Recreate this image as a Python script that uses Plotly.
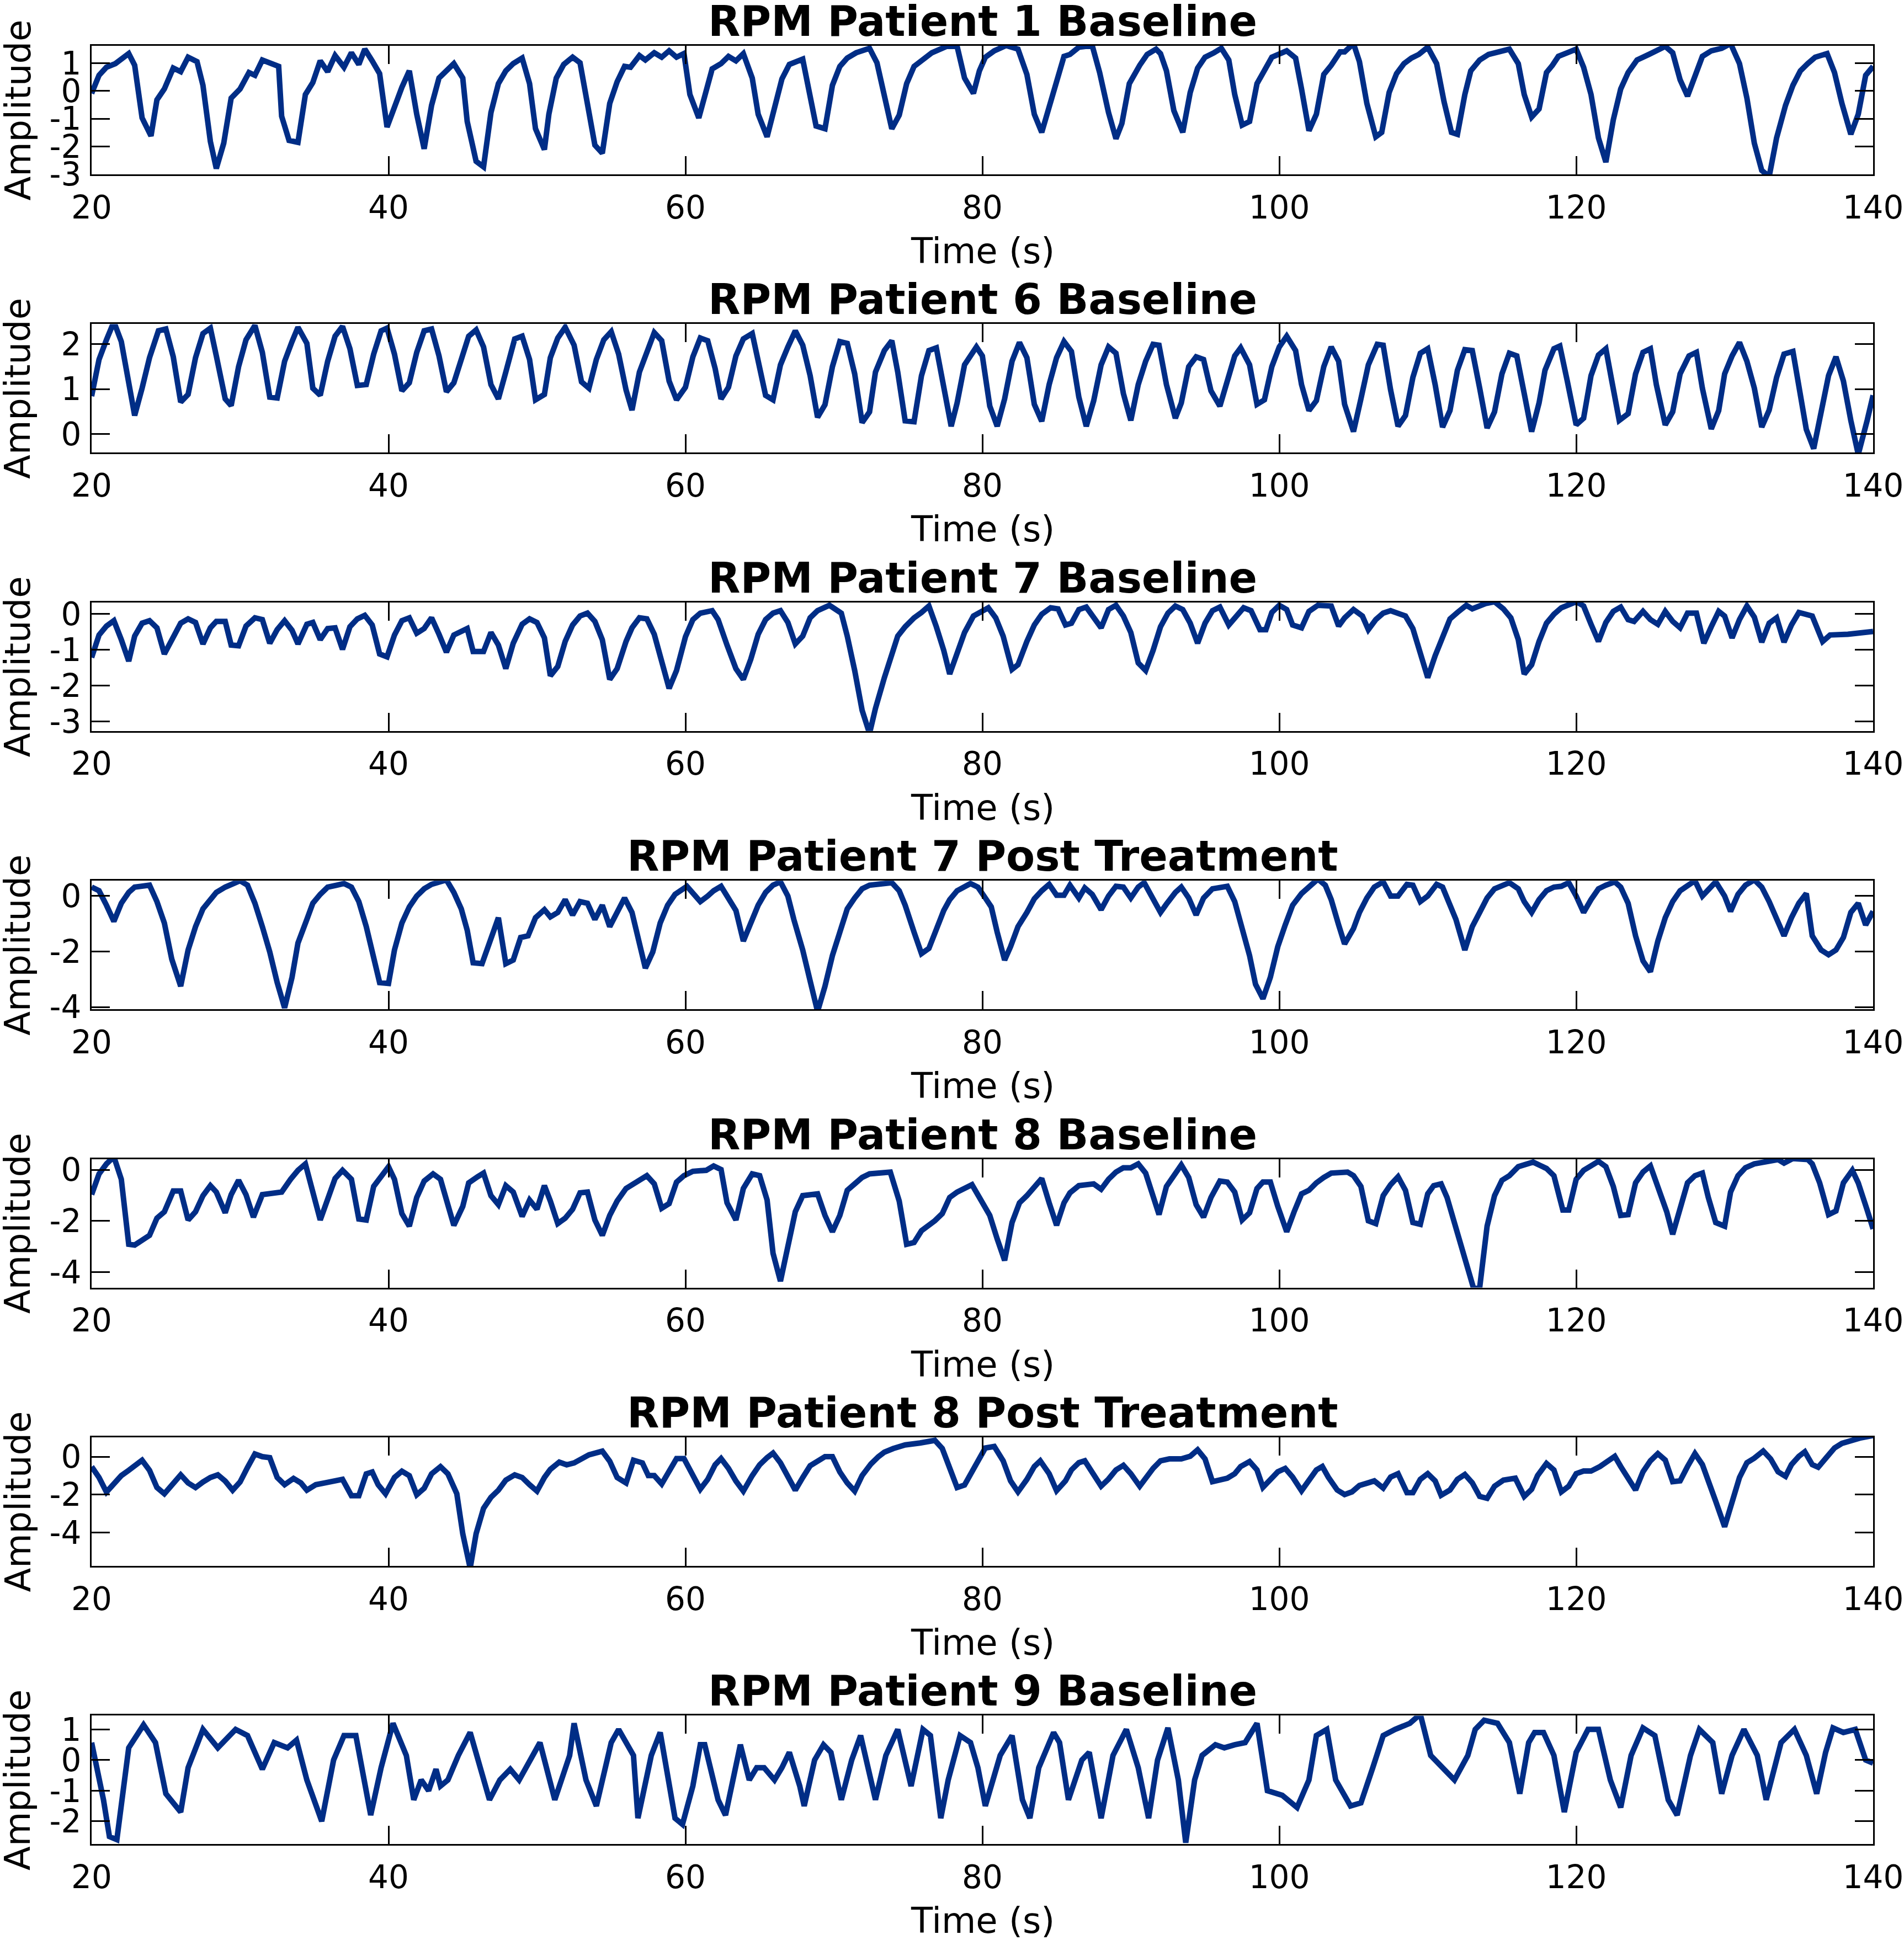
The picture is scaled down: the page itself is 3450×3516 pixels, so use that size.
import plotly.graph_objects as go

W, H = 3450, 3516

titles = ["RPM Patient 1 Baseline", "RPM Patient 6 Baseline", "RPM Patient 7 Baseline",
          "RPM Patient 7 Post Treatment", "RPM Patient 8 Baseline",
          "RPM Patient 8 Post Treatment", "RPM Patient 9 Baseline"]

x_ticks = [20, 40, 60, 80, 100, 120, 140]

# ---- Patient 1 baseline
t1 = [20, 20.5, 21, 21.6, 22.5, 22.9, 23.4, 24.0, 24.4, 24.9, 25.5, 26.0, 26.5, 27.1, 27.5, 28.0, 28.4, 28.9, 29.4, 30.0,
      30.6, 31.0, 31.5, 32.2, 32.6, 32.8, 33.3, 33.9, 34.4, 34.9, 35.4, 35.9, 36.4, 37.0, 37.5, 38.0, 38.4, 38.9, 39.4, 39.9,
      40.4, 40.9, 41.4, 41.9, 42.4, 42.9, 43.4, 43.9, 44.4, 45.0, 45.3, 45.9, 46.4, 46.9, 47.4, 47.9, 48.4, 49.0, 49.5, 49.9,
      50.5, 50.8, 51.3, 51.8, 52.4, 52.9, 53.4, 53.9, 54.4, 54.9, 55.4, 55.9, 56.3, 56.9, 57.3, 57.9, 58.4, 58.9, 59.4, 59.9,
      60.3, 60.9, 61.3, 61.8, 62.4, 62.9, 63.4, 63.9, 64.5, 64.9, 65.5, 66.0, 66.5, 67.0, 67.9, 68.3, 68.8, 69.4, 69.9, 70.4,
      70.9, 71.5, 72.4, 72.9, 73.3, 73.9, 74.4, 74.9, 75.4, 76.0, 76.6, 77.6, 78.3, 78.8, 79.4, 79.8, 80.2, 80.8, 81.6, 82.4,
      83.0, 83.5, 84.0, 84.5, 85.0, 85.5, 85.9, 86.5, 87.4, 87.9, 88.5, 89.0, 89.4, 89.9, 90.6, 91.1, 91.7, 92.0, 92.4, 92.9,
      93.5, 94.0, 94.5, 95.0, 95.6, 96.1, 96.6, 97.0, 97.5, 98.0, 98.5, 99.1, 99.5, 100.5, 101.1, 101.5, 102.0, 102.5, 103.0, 103.5,
      104.1, 104.4, 105.0, 105.4, 105.9, 106.5, 106.9, 107.4, 107.9, 108.4, 108.9, 109.4, 110.0, 110.6, 111.1, 111.6, 112.0, 112.5, 112.9, 113.5,
      114.1, 115.5, 116.1, 116.5, 117.0, 117.5, 118.0, 118.4, 118.8, 119.4, 120.0, 120.5, 121.0, 121.5, 122.0, 122.5, 123.0, 123.5, 124.1, 124.9,
      126.0, 126.5, 127.0, 127.5, 128.0, 128.5, 129.1, 129.8, 130.4, 131.0, 131.5, 132.0, 132.5, 133.0, 133.5, 134.1, 134.6, 135.1, 135.6, 136.1,
      136.9, 137.4, 137.9, 138.5, 139.0, 139.5, 140.0]
y1 = [-0.09, 0.56, 0.85, 0.98, 1.34, 0.92, -0.97, -1.62, -0.32, 0.07, 0.82, 0.69, 1.21, 1.05, 0.20, -1.82, -2.79, -1.88, -0.26, 0.07,
      0.66, 0.56, 1.11, 0.98, 0.88, -0.91, -1.78, -1.85, -0.13, 0.30, 1.08, 0.69, 1.27, 0.85, 1.37, 0.95, 1.50, 1.08, 0.62, -1.30,
      -0.52, 0.13, 0.72, -0.84, -2.08, -0.52, 0.46, 0.69, 0.98, 0.46, -1.10, -2.53, -2.73, -0.78, 0.26, 0.72, 0.98, 1.18, 0.26, -1.36,
      -2.11, -0.84, 0.46, 0.95, 1.21, 1.01, -0.58, -1.95, -2.24, -0.45, 0.33, 0.88, 0.85, 1.27, 1.11, 1.37, 1.21, 1.44, 1.21, 1.34,
      -0.13, -0.97, -0.19, 0.79, 0.98, 1.24, 1.08, 1.34, 0.46, -0.84, -1.65, -0.58, 0.43, 0.95, 1.14, 0.07, -1.26, -1.36, 0.20, 0.88,
      1.18, 1.37, 1.53, 1.01, 0.13, -1.36, -0.87, 0.26, 0.88, 1.11, 1.37, 1.60, 1.60, 0.46, -0.09, 0.72, 1.21, 1.44, 1.63, 1.50,
      0.59, -0.84, -1.49, -0.58, 0.33, 1.24, 1.31, 1.57, 1.63, 0.66, -0.78, -1.72, -1.17, 0.26, 0.92, 1.31, 1.50, 1.34, 0.72, -0.71,
      -1.49, -0.06, 0.82, 1.21, 1.37, 1.53, 1.11, -0.13, -1.23, -1.10, 0.26, 0.82, 1.21, 1.44, 1.18, 0.07, -1.43, -0.84, 0.59, 0.92,
      1.40, 1.40, 1.70, 1.05, -0.45, -1.65, -1.49, -0.06, 0.62, 0.98, 1.18, 1.31, 1.57, 0.98, -0.39, -1.49, -1.56, -0.13, 0.72, 1.11,
      1.31, 1.50, 0.98, -0.13, -0.94, -0.65, 0.66, 0.92, 1.24, 1.37, 1.50, 0.85, -0.13, -1.69, -2.56, -1.04, 0.07, 0.66, 1.11, 1.31,
      1.60, 1.37, 0.40, -0.19, 0.46, 1.24, 1.44, 1.53, 1.70, 0.98, -0.26, -1.88, -2.86, -3.08, -1.69, -0.52, 0.20, 0.72, 0.98, 1.21,
      1.34, 0.66, -0.45, -1.56, -0.84, 0.56, 0.88]

# ---- Patient 6 baseline
t2 = [20, 20.5, 21.0, 21.5, 22.0, 22.5, 22.9, 23.4, 23.9, 24.5, 25.0, 25.5, 26.0, 26.5, 27.0, 27.5, 28.0, 28.4, 29.0, 29.4,
      29.9, 30.4, 31.0, 31.5, 32.0, 32.5, 33.0, 33.5, 33.9, 34.5, 34.9, 35.4, 35.9, 36.4, 36.9, 37.4, 37.9, 38.5, 39.0, 39.5,
      39.9, 40.4, 40.9, 41.4, 41.9, 42.4, 42.9, 43.4, 43.9, 44.4, 45.0, 45.4, 45.9, 46.4, 46.9, 47.4, 47.9, 48.5, 49.0, 49.5,
      49.9, 50.5, 50.9, 51.4, 51.9, 52.5, 53.0, 53.5, 54.0, 54.5, 55.0, 55.5, 56.0, 56.4, 56.9, 57.4, 57.9, 58.4, 58.9, 59.4,
      60.0, 60.5, 61.0, 61.5, 62.0, 62.4, 62.9, 63.4, 63.9, 64.5, 64.9, 65.4, 65.9, 66.4, 66.9, 67.4, 67.9, 68.4, 68.9, 69.4,
      69.9, 70.4, 70.9, 71.4, 71.9, 72.4, 72.8, 73.4, 73.9, 74.3, 74.8, 75.4, 75.9, 76.4, 76.9, 77.4, 77.9, 78.3, 78.8, 79.6,
      80.0, 80.5, 81.0, 81.5, 82.0, 82.5, 83.0, 83.5, 84.0, 84.5, 85.0, 85.5, 86.0, 86.5, 87.0, 87.5, 88.0, 88.5, 89.0, 89.5,
      90.0, 90.5, 91.0, 91.5, 91.9, 92.4, 93.0, 93.4, 93.9, 94.4, 94.9, 95.4, 96.0, 96.5, 97.0, 97.4, 98.0, 98.5, 99.0, 99.5,
      100.0, 100.5, 101.1, 101.5, 102.0, 102.5, 103.0, 103.5, 104.0, 104.4, 105.0, 105.5, 106.0, 106.6, 107.0, 107.5, 108.0, 108.5, 109.0, 109.5,
      110.0, 110.5, 111.0, 111.5, 112.0, 112.5, 113.0, 113.5, 114.0, 114.5, 115.0, 115.5, 116.0, 116.5, 117.0, 117.5, 117.9, 118.5, 118.9, 119.4,
      120.0, 120.5, 121.0, 121.5, 122.0, 122.4, 122.9, 123.5, 124.0, 124.5, 125.0, 125.4, 126.0, 126.5, 127.0, 127.6, 128.1, 128.5, 129.1, 129.6,
      130.0, 130.5, 131.0, 131.5, 132.0, 132.5, 133.0, 133.5, 134.0, 134.6, 135.0, 135.5, 136.0, 136.5, 137.0, 137.5, 138.0, 138.5, 139.0, 139.6, 140.0]
y2 = [0.84, 1.66, 2.10, 2.50, 2.06, 1.10, 0.41, 1.02, 1.70, 2.30, 2.34, 1.72, 0.71, 0.88, 1.70, 2.24, 2.36, 1.74, 0.78, 0.63,
      1.50, 2.10, 2.42, 1.82, 0.82, 0.80, 1.62, 2.06, 2.38, 2.02, 1.02, 0.86, 1.62, 2.18, 2.40, 1.90, 1.08, 1.10, 1.78, 2.30,
      2.36, 1.78, 0.96, 1.14, 1.82, 2.30, 2.34, 1.74, 0.94, 1.14, 1.82, 2.18, 2.32, 1.94, 1.10, 0.78, 1.38, 2.12, 2.18, 1.66,
      0.76, 0.88, 1.70, 2.14, 2.38, 1.98, 1.16, 1.02, 1.66, 2.10, 2.28, 1.78, 0.98, 0.53, 1.38, 1.82, 2.26, 2.08, 1.18, 0.76,
      1.04, 1.72, 2.14, 2.08, 1.46, 0.78, 1.04, 1.74, 2.12, 2.24, 1.58, 0.86, 0.76, 1.54, 1.94, 2.30, 1.98, 1.30, 0.37, 0.65,
      1.50, 2.06, 2.02, 1.34, 0.25, 0.49, 1.38, 1.86, 2.08, 1.38, 0.29, 0.27, 1.30, 1.86, 1.92, 1.02, 0.17, 0.69, 1.54, 1.94,
      1.74, 0.62, 0.17, 0.78, 1.62, 2.04, 1.70, 0.66, 0.28, 1.10, 1.70, 2.06, 1.84, 0.82, 0.17, 0.74, 1.54, 1.94, 1.80, 0.90,
      0.30, 1.10, 1.62, 2.00, 1.98, 1.10, 0.35, 0.69, 1.50, 1.72, 1.66, 0.96, 0.62, 1.18, 1.74, 1.92, 1.54, 0.66, 0.76, 1.50,
      1.94, 2.18, 1.86, 1.10, 0.52, 0.74, 1.50, 1.94, 1.62, 0.66, 0.05, 0.78, 1.54, 2.00, 1.98, 0.98, 0.17, 0.41, 1.26, 1.80,
      1.90, 1.10, 0.15, 0.52, 1.42, 1.88, 1.86, 1.02, 0.13, 0.49, 1.34, 1.80, 1.74, 0.90, 0.05, 0.69, 1.42, 1.90, 1.96, 1.18,
      0.20, 0.35, 1.30, 1.76, 1.90, 1.18, 0.30, 0.45, 1.34, 1.82, 1.90, 1.10, 0.20, 0.49, 1.34, 1.74, 1.82, 1.02, 0.11, 0.52,
      1.34, 1.74, 2.04, 1.62, 1.02, 0.15, 0.53, 1.26, 1.78, 1.84, 1.10, 0.10, -0.33, 0.53, 1.30, 1.72, 1.18, 0.30, -0.46, 0.30, 0.86]

# ---- Patient 7 baseline
t3 = [20, 20.5, 21.0, 21.5, 22.0, 22.5, 22.9, 23.4, 23.9, 24.4, 24.9, 25.4, 26.0, 26.5, 27.0, 27.5, 28.0, 28.4, 29.0, 29.4,
      29.9, 30.4, 31.0, 31.5, 32.0, 32.5, 33.0, 33.5, 33.9, 34.5, 34.9, 35.4, 35.9, 36.4, 36.9, 37.4, 37.9, 38.4, 38.9, 39.4,
      39.9, 40.4, 40.9, 41.4, 41.9, 42.4, 42.9, 43.4, 43.9, 44.4, 45.3, 45.7, 46.4, 46.9, 47.4, 47.9, 48.4, 49.0, 49.5, 50.0,
      50.5, 50.9, 51.4, 51.9, 52.4, 52.9, 53.4, 53.9, 54.4, 54.9, 55.4, 56.0, 56.4, 56.9, 57.4, 57.9, 58.4, 58.9, 59.4, 60.0,
      60.5, 61.0, 61.8, 62.2, 62.8, 63.4, 63.9, 64.4, 64.9, 65.4, 65.9, 66.4, 66.9, 67.4, 67.9, 68.4, 68.9, 69.7, 70.5, 70.9,
      71.4, 71.9, 72.4, 72.8, 73.4, 73.9, 74.3, 74.8, 75.4, 75.9, 76.4, 76.9, 77.4, 77.8, 78.3, 78.8, 79.4, 80.0, 80.4, 80.9,
      81.4, 82.0, 82.4, 83.0, 83.5, 84.0, 84.6, 85.1, 85.6, 86.0, 86.5, 87.0, 87.5, 88.0, 88.5, 89.0, 89.5, 90.0, 90.5, 91.0,
      91.5, 92.0, 92.5, 93.0, 93.5, 94.0, 94.5, 95.0, 95.5, 96.0, 96.6, 97.0, 97.6, 98.1, 98.7, 99.1, 99.5, 100.0, 100.5, 100.9,
      101.5, 102.0, 102.6, 103.5, 104.0, 104.4, 105.0, 105.6, 106.0, 106.5, 107.0, 107.5, 108.5, 109.0, 109.5, 110.0, 110.5, 111.0, 111.5, 112.0,
      112.6, 113.0, 113.5, 113.9, 114.5, 115.1, 115.6, 116.1, 116.5, 117.0, 117.5, 118.0, 118.5, 119.0, 120.0, 120.5, 121.0, 121.5, 122.0, 122.5,
      123.0, 123.5, 123.9, 124.5, 125.0, 125.5, 126.0, 126.5, 127.0, 127.5, 128.1, 128.6, 129.1, 129.6, 130.0, 130.5, 131.0, 131.5, 132.0, 132.5,
      133.0, 133.5, 134.0, 134.5, 135.0, 135.9, 136.6, 137.1, 138.3, 139.1, 140.0]
y3 = [-1.22, -0.59, -0.34, -0.19, -0.72, -1.32, -0.62, -0.26, -0.19, -0.39, -1.12, -0.69, -0.26, -0.14, -0.24, -0.84, -0.39, -0.21, -0.21, -0.87,
      -0.89, -0.34, -0.11, -0.16, -0.82, -0.44, -0.19, -0.46, -0.84, -0.29, -0.24, -0.72, -0.41, -0.39, -0.99, -0.36, -0.14, -0.04, -0.31, -1.12,
      -1.20, -0.59, -0.19, -0.11, -0.54, -0.41, -0.11, -0.57, -1.07, -0.59, -0.41, -1.05, -1.05, -0.52, -0.87, -1.53, -0.82, -0.29, -0.14, -0.24,
      -0.67, -1.73, -1.47, -0.77, -0.31, -0.06, 0.02, -0.21, -0.72, -1.83, -1.53, -0.77, -0.39, -0.11, -0.14, -0.57, -1.37, -2.08, -1.58, -0.64,
      -0.16, 0.02, 0.09, -0.16, -0.87, -1.53, -1.83, -1.27, -0.57, -0.16, 0.02, 0.09, -0.24, -0.84, -0.62, -0.11, 0.09, 0.24, 0.02, -0.62,
      -1.58, -2.69, -3.34, -2.64, -1.78, -1.12, -0.62, -0.36, -0.11, 0.04, 0.22, -0.36, -1.02, -1.68, -1.12, -0.52, -0.06, 0.09, 0.17, -0.11,
      -0.62, -1.55, -1.42, -0.77, -0.31, -0.01, 0.17, 0.14, -0.31, -0.26, 0.12, 0.19, -0.11, -0.39, 0.12, 0.24, -0.06, -0.52, -1.37, -1.58,
      -1.02, -0.36, 0.02, 0.22, 0.12, -0.26, -0.82, -0.26, 0.09, 0.19, -0.31, -0.14, 0.17, 0.09, -0.44, -0.44, 0.04, 0.24, 0.12, -0.31,
      -0.39, 0.07, 0.24, 0.22, -0.34, -0.11, 0.12, -0.06, -0.44, -0.16, 0.02, 0.09, -0.06, -0.41, -1.12, -1.78, -1.17, -0.62, -0.14, 0.04,
      0.24, 0.14, 0.24, 0.29, 0.34, 0.14, -0.11, -0.72, -1.68, -1.42, -0.77, -0.26, -0.01, 0.17, 0.34, 0.22, -0.29, -0.77, -0.24, 0.07,
      0.19, -0.16, -0.21, 0.07, -0.16, -0.29, 0.07, -0.21, -0.39, 0.02, 0.02, -0.82, -0.36, 0.07, -0.06, -0.67, -0.16, 0.22, -0.09, -0.79,
      -0.26, -0.11, -0.79, -0.31, 0.04, -0.06, -0.77, -0.59, -0.57, -0.54, -0.49]

# ---- Patient 7 post treatment
t4 = [20, 20.5, 21.0, 21.5, 22.0, 22.5, 22.9, 23.9, 24.4, 24.9, 25.4, 26.0, 26.5, 27.0, 27.5, 28.0, 28.4, 29.0, 29.5, 30.0,
      30.5, 31.0, 31.5, 32.0, 32.5, 33.0, 33.5, 33.9, 34.5, 34.9, 35.4, 35.9, 36.5, 37.0, 37.5, 38.0, 38.5, 39.0, 39.4, 40.0,
      40.4, 40.9, 41.4, 41.9, 42.4, 42.9, 43.4, 43.9, 44.4, 44.9, 45.3, 45.7, 46.3, 46.8, 47.4, 47.9, 48.4, 48.9, 49.4, 49.9,
      50.5, 50.9, 51.4, 51.9, 52.4, 52.9, 53.4, 53.9, 54.4, 54.9, 55.4, 55.9, 56.4, 56.8, 57.3, 57.8, 58.3, 58.8, 59.3, 60.1,
      60.6, 61.0, 61.5, 61.9, 62.4, 62.8, 63.4, 63.9, 64.4, 64.9, 65.4, 65.9, 66.4, 66.9, 67.3, 67.9, 68.4, 68.9, 69.4, 69.9,
      70.4, 70.9, 71.4, 71.9, 72.4, 73.9, 74.4, 74.8, 75.4, 75.9, 76.4, 76.9, 77.4, 77.8, 78.3, 79.2, 79.7, 80.2, 80.6, 81.0,
      81.5, 81.9, 82.4, 83.0, 83.5, 84.0, 84.5, 85.0, 85.5, 85.9, 86.5, 86.9, 87.4, 88.0, 88.5, 89.0, 89.5, 90.0, 90.5, 90.9,
      91.5, 92.0, 92.4, 93.0, 93.4, 93.9, 94.4, 94.9, 95.5, 96.5, 97.0, 97.4, 98.0, 98.4, 98.9, 99.4, 99.9, 100.4, 100.9, 101.5,
      102.0, 102.6, 103.1, 103.5, 104.0, 104.4, 105.0, 105.4, 105.9, 106.4, 107.0, 107.5, 108.0, 108.6, 109.0, 109.5, 110.0, 110.6, 111.0, 111.5,
      111.9, 112.5, 113.0, 113.5, 114.0, 114.5, 115.5, 116.1, 116.5, 117.0, 117.5, 118.0, 118.5, 119.0, 119.5, 120.0, 120.5, 121.0, 121.5, 122.0,
      122.6, 123.0, 123.5, 124.0, 124.5, 125.0, 125.5, 126.0, 126.5, 127.0, 127.5, 128.0, 128.5, 128.9, 129.4, 130.0, 130.4, 130.9, 131.4, 132.0,
      132.5, 133.0, 133.5, 134.0, 134.5, 135.0, 135.5, 135.9, 136.5, 137.0, 137.5, 138.0, 138.5, 139.0, 139.5, 140.0]
y4 = [0.31, 0.18, -0.34, -0.92, -0.27, 0.12, 0.31, 0.38, -0.21, -0.98, -2.28, -3.25, -1.95, -1.11, -0.47, -0.17, 0.12, 0.31, 0.44, 0.54,
      0.38, -0.27, -1.11, -2.02, -3.12, -4.03, -2.93, -1.70, -0.85, -0.27, 0.05, 0.31, 0.38, 0.44, 0.31, -0.21, -1.11, -2.28, -3.12, -3.15,
      -1.95, -0.98, -0.40, -0.01, 0.25, 0.41, 0.47, 0.57, 0.12, -0.47, -1.24, -2.41, -2.44, -1.63, -0.79, -2.44, -2.31, -1.50, -1.44, -0.79,
      -0.50, -0.76, -0.60, -0.14, -0.69, -0.21, -0.27, -0.85, -0.34, -1.11, -0.60, -0.08, -0.60, -1.50, -2.60, -2.02, -0.98, -0.34, 0.05, 0.34,
      0.05, -0.21, -0.01, 0.18, 0.34, -0.01, -0.53, -1.63, -0.98, -0.34, 0.12, 0.38, 0.50, -0.01, -0.85, -1.95, -3.06, -4.16, -3.25, -2.15,
      -1.31, -0.47, -0.08, 0.25, 0.38, 0.47, 0.18, -0.34, -1.31, -2.08, -1.89, -1.18, -0.53, -0.14, 0.18, 0.44, 0.31, -0.08, -0.40, -1.31,
      -2.31, -1.83, -1.11, -0.60, -0.11, 0.18, 0.41, 0.02, 0.02, 0.38, -0.08, 0.28, 0.05, -0.50, -0.01, 0.34, 0.31, -0.08, 0.31, 0.47,
      -0.14, -0.60, -0.30, 0.12, 0.31, -0.08, -0.69, -0.08, 0.25, 0.34, -0.21, -0.98, -2.15, -3.18, -3.70, -2.93, -1.83, -1.05, -0.34, 0.08,
      0.34, 0.60, 0.38, -0.14, -1.05, -1.73, -1.18, -0.60, -0.08, 0.31, 0.50, -0.01, -0.01, 0.41, 0.38, -0.21, -0.01, 0.41, 0.31, -0.34,
      -0.85, -1.95, -1.11, -0.60, -0.08, 0.25, 0.47, 0.25, -0.21, -0.60, -0.14, 0.18, 0.31, 0.34, 0.47, -0.01, -0.60, -0.14, 0.25, 0.38,
      0.50, 0.31, -0.27, -1.44, -2.34, -2.73, -1.63, -0.79, -0.21, 0.18, 0.38, 0.54, -0.01, 0.25, 0.50, -0.01, -0.56, 0.05, 0.38, 0.57,
      0.31, -0.21, -0.79, -1.44, -0.79, -0.27, 0.08, -1.44, -1.95, -2.12, -1.95, -1.50, -0.60, -0.27, -1.05, -0.56]

# ---- Patient 8 baseline
t5 = [20, 20.5, 21.0, 21.5, 22.0, 22.5, 22.9, 23.4, 23.9, 24.4, 24.9, 25.5, 26.0, 26.5, 27.0, 27.5, 28.0, 28.4, 29.0, 29.4,
      29.9, 30.4, 30.9, 31.5, 32.0, 32.8, 33.4, 33.9, 34.4, 34.9, 35.4, 35.9, 36.4, 36.9, 37.5, 38.0, 38.5, 39.0, 39.5, 40.0,
      40.4, 40.9, 41.4, 41.9, 42.4, 43.0, 43.5, 44.0, 44.4, 45.0, 45.4, 46.0, 46.4, 46.9, 47.4, 47.9, 48.4, 49.0, 49.5, 50.0,
      50.5, 50.9, 51.4, 51.9, 52.4, 52.9, 53.4, 53.9, 54.4, 54.9, 55.4, 56.0, 56.4, 56.9, 57.4, 57.9, 58.4, 58.9, 59.4, 59.9,
      60.5, 61.4, 61.9, 62.4, 62.8, 63.4, 63.9, 64.5, 65.0, 65.5, 65.9, 66.4, 66.9, 67.4, 67.9, 68.9, 69.4, 69.9, 70.4, 70.9,
      71.4, 71.9, 72.4, 73.8, 74.4, 74.9, 75.4, 75.9, 76.8, 77.3, 77.8, 78.3, 79.3, 79.9, 80.5, 81.0, 81.5, 82.0, 82.5, 83.0,
      83.5, 84.0, 84.5, 85.0, 85.5, 85.9, 86.5, 87.5, 88.0, 88.5, 89.0, 89.5, 90.0, 90.5, 91.0, 91.5, 91.9, 92.4, 93.0, 93.4,
      93.9, 94.4, 94.9, 95.4, 96.0, 96.5, 97.0, 97.5, 98.0, 98.5, 98.9, 99.4, 99.9, 100.5, 101.0, 101.5, 102.0, 102.5, 103.0, 103.5,
      104.6, 105.0, 105.5, 106.0, 106.5, 107.0, 107.5, 108.0, 108.5, 109.0, 109.5, 110.0, 110.4, 110.9, 111.3, 111.9, 112.3, 112.8, 113.1, 113.5,
      114.0, 114.5, 115.0, 115.5, 116.1, 117.1, 117.5, 118.0, 118.5, 118.8, 119.1, 119.5, 120.0, 120.5, 121.5, 122.0, 122.5, 123.0, 123.5, 124.0,
      124.5, 125.0, 125.6, 126.1, 126.5, 127.0, 127.5, 128.0, 128.5, 128.9, 129.4, 130.0, 130.4, 130.9, 131.4, 132.0, 133.0, 133.6, 134.0, 134.6,
      135.6, 135.9, 136.4, 137.0, 137.5, 138.0, 138.6, 139.0, 139.6, 140.0]
y5 = [-0.97, -0.16, 0.23, 0.51, -0.37, -2.91, -2.94, -2.77, -2.56, -1.89, -1.64, -0.83, -0.83, -1.96, -1.64, -1.01, -0.62, -0.87, -1.68, -0.97,
      -0.41, -0.97, -1.85, -0.97, -0.94, -0.87, -0.37, -0.02, 0.23, -0.87, -1.96, -1.15, -0.34, -0.02, -0.37, -1.92, -1.96, -0.65, -0.23, 0.12,
      -0.37, -1.71, -2.20, -1.08, -0.44, -0.16, -0.37, -1.43, -2.17, -1.43, -0.51, -0.27, -0.13, -1.01, -1.36, -0.62, -0.87, -1.82, -1.18, -1.54,
      -0.62, -1.22, -2.10, -1.89, -1.54, -0.90, -0.87, -1.96, -2.56, -1.78, -1.22, -0.73, -0.58, -0.41, -0.23, -0.55, -1.50, -1.32, -0.48, -0.23,
      -0.06, -0.02, 0.15, 0.01, -1.29, -1.96, -0.73, -0.16, -0.23, -1.18, -3.26, -4.35, -3.05, -1.64, -1.01, -0.94, -1.78, -2.42, -1.78, -0.80,
      -0.55, -0.30, -0.16, -0.09, -1.22, -2.91, -2.84, -2.38, -1.99, -1.71, -1.08, -0.87, -0.58, -1.22, -1.78, -2.70, -3.54, -2.06, -1.29, -1.01,
      -0.65, -0.34, -1.29, -2.17, -1.29, -0.90, -0.62, -0.55, -0.76, -0.37, -0.09, 0.08, 0.08, 0.23, -0.13, -1.08, -1.75, -0.65, -0.09, 0.19,
      -0.30, -1.36, -1.85, -1.08, -0.44, -0.48, -0.87, -1.96, -1.68, -0.73, -0.48, -0.48, -1.43, -2.42, -1.64, -0.94, -0.80, -0.51, -0.30, -0.13,
      -0.09, -0.23, -0.65, -1.99, -2.10, -1.01, -0.58, -0.27, -0.80, -2.06, -2.13, -0.94, -0.62, -0.55, -1.08, -2.27, -2.98, -4.04, -4.65, -4.60,
      -2.20, -1.01, -0.41, -0.23, 0.12, 0.30, 0.19, 0.05, -0.23, -0.94, -1.57, -1.57, -0.37, -0.02, 0.33, 0.12, -0.65, -1.78, -1.75, -0.51,
      -0.09, 0.15, -0.80, -1.64, -2.52, -1.43, -0.51, -0.23, -0.13, -1.08, -2.06, -2.20, -0.87, -0.23, 0.08, 0.23, 0.33, 0.40, 0.26, 0.44,
      0.40, 0.23, -0.51, -1.75, -1.61, -0.51, -0.02, -0.51, -1.57, -2.31]

# ---- Patient 8 post treatment
t6 = [20, 20.5, 21.0, 21.5, 22.0, 22.5, 22.9, 23.4, 23.9, 24.4, 24.9, 25.5, 26.0, 26.5, 27.0, 27.5, 28.0, 28.5, 29.0, 29.5,
      30.0, 30.5, 31.0, 31.5, 32.0, 32.5, 33.0, 33.6, 34.1, 34.5, 35.1, 35.7, 36.3, 36.9, 37.5, 38.0, 38.5, 38.9, 39.3, 39.8,
      40.4, 40.9, 41.4, 41.9, 42.4, 42.9, 43.5, 44.0, 44.6, 45.0, 45.5, 45.9, 46.4, 46.9, 47.4, 47.9, 48.5, 49.0, 49.5, 50.0,
      50.5, 50.9, 51.5, 52.0, 52.5, 53.0, 53.5, 54.4, 54.9, 55.4, 56.0, 56.5, 57.1, 57.5, 57.9, 58.4, 58.9, 59.4, 59.9, 60.5,
      61.0, 61.5, 62.0, 62.4, 62.9, 63.4, 63.9, 64.5, 65.0, 65.5, 65.9, 66.4, 66.9, 67.4, 67.9, 68.4, 68.9, 69.4, 69.9, 70.4,
      70.9, 71.4, 71.9, 72.5, 73.0, 73.4, 74.0, 74.8, 75.8, 76.8, 77.3, 77.8, 78.3, 78.8, 79.4, 79.85, 80.2, 80.8, 81.4, 81.9,
      82.4, 83.0, 83.5, 83.9, 84.5, 85.0, 85.6, 86.0, 86.5, 86.9, 87.5, 88.0, 88.5, 89.0, 89.5, 90.0, 90.6, 91.1, 91.5, 92.0,
      92.6, 93.4, 94.0, 94.5, 95.0, 95.5, 96.0, 96.5, 97.0, 97.4, 98.0, 98.5, 98.9, 99.4, 99.9, 100.4, 100.9, 101.5, 102.0, 102.5,
      102.9, 103.3, 103.9, 104.4, 104.9, 105.4, 106.0, 106.4, 107.0, 107.5, 108.0, 108.6, 109.0, 109.5, 110.0, 110.5, 110.9, 111.5, 112.0, 112.5,
      113.0, 113.5, 114.0, 114.5, 115.1, 115.9, 116.5, 117.0, 117.4, 118.0, 118.5, 119.0, 119.5, 120.0, 120.5, 121.0, 121.6, 122.1, 122.6, 123.0,
      123.5, 124.0, 124.5, 125.0, 125.5, 126.0, 126.5, 127.0, 127.5, 128.0, 128.5, 128.9, 129.4, 130.0, 130.5, 131.0, 131.5, 132.0, 132.6, 133.1,
      133.6, 134.1, 134.5, 135.0, 135.4, 135.9, 136.3, 136.8, 137.4, 137.9, 138.3, 139.1, 140.0]
y6 = [-0.53, -1.10, -1.87, -1.48, -1.00, -0.72, -0.48, -0.19, -0.72, -1.63, -1.96, -1.39, -0.96, -1.39, -1.63, -1.34, -1.10, -0.96, -1.29, -1.77,
      -1.34, -0.57, 0.14, 0.00, -0.05, -1.10, -1.48, -1.15, -1.39, -1.77, -1.48, -1.39, -1.29, -1.20, -2.06, -2.06, -0.91, -0.81, -1.48, -1.96,
      -1.10, -0.77, -1.00, -2.01, -1.67, -0.91, -0.53, -0.91, -1.96, -4.07, -5.89, -4.07, -2.73, -2.15, -1.77, -1.24, -0.96, -1.10, -1.48, -1.82,
      -1.10, -0.67, -0.29, -0.43, -0.33, -0.10, 0.10, 0.29, -0.24, -1.10, -1.39, -0.19, -0.33, -1.00, -1.00, -1.44, -0.72, -0.10, -0.10, -1.00,
      -1.72, -1.20, -0.43, -0.10, -0.62, -1.29, -1.82, -1.00, -0.43, -0.05, 0.19, -0.33, -1.10, -1.77, -1.10, -0.48, -0.24, 0.00, 0.00, -0.81,
      -1.39, -1.82, -1.00, -0.38, 0.00, 0.24, 0.43, 0.62, 0.72, 0.86, 0.43, -0.53, -1.63, -1.50, -0.60, 0.07, 0.46, 0.54, -0.22, -1.28,
      -1.86, -1.20, -0.52, -0.22, -0.90, -1.80, -1.28, -0.70, -0.32, -0.22, -0.90, -1.56, -1.18, -0.70, -0.46, -0.90, -1.56, -1.00, -0.62, -0.22,
      -0.12, -0.12, 0.02, 0.36, -0.12, -1.32, -1.24, -1.14, -0.90, -0.52, -0.26, -0.70, -1.62, -1.24, -0.80, -0.62, -1.08, -1.80, -1.20, -0.70,
      -0.52, -1.08, -1.76, -2.00, -1.86, -1.52, -1.38, -1.28, -1.66, -1.08, -0.90, -1.90, -1.90, -1.20, -0.90, -1.28, -2.04, -1.76, -1.20, -0.94,
      -1.38, -2.10, -2.20, -1.56, -1.24, -1.14, -2.10, -1.72, -1.00, -0.36, -0.70, -1.86, -1.56, -0.90, -0.76, -0.76, -0.52, -0.22, 0.02, -0.52,
      -1.20, -1.76, -0.80, -0.22, 0.16, -0.18, -1.32, -1.28, -0.52, 0.16, -0.42, -1.20, -2.36, -3.70, -2.46, -1.10, -0.32, -0.08, 0.30, -0.12,
      -0.80, -1.04, -0.42, 0.02, 0.26, -0.42, -0.56, -0.12, 0.46, 0.70, 0.80, 0.98, 1.12]

# ---- Patient 9 baseline
t7 = [20, 20.8, 21.2, 21.7, 22.5, 23.5, 24.3, 25.0, 26.0, 26.5, 27.5, 28.5, 29.7, 30.5, 31.5, 32.3, 33.2, 33.8, 34.5, 35.5,
      36.3, 37.0, 37.8, 38.8, 39.5, 40.3, 41.2, 41.7, 42.2, 42.7, 43.2, 43.5, 44.0, 44.7, 45.5, 46.8, 47.5, 48.2, 48.8, 50.2,
      51.2, 52.2, 52.5, 53.3, 54.0, 55.0, 55.5, 56.5, 56.8, 57.7, 58.3, 59.3, 59.8, 60.5, 61.0, 61.3, 62.2, 62.7, 63.7, 64.3,
      64.8, 65.3, 66.0, 66.5, 67.0, 67.7, 68.0, 68.7, 69.3, 69.8, 70.5, 71.2, 71.8, 72.8, 73.5, 74.3, 75.2, 76.0, 76.5, 77.2,
      77.7, 78.5, 79.2, 79.7, 80.2, 81.2, 82.0, 82.7, 83.2, 83.8, 84.8, 85.2, 85.8, 86.7, 87.2, 88.0, 88.8, 89.7, 90.5, 91.2,
      91.8, 92.5, 93.2, 93.7, 94.3, 94.8, 95.7, 96.3, 97.0, 97.7, 98.5, 99.2, 100.2, 101.2, 102.0, 102.5, 103.2, 103.8, 104.8, 105.5,
      106.3, 107.0, 107.8, 108.8, 109.5, 110.2, 111.0, 111.8, 112.7, 113.2, 113.8, 114.7, 115.5, 116.2, 116.8, 117.2, 117.8, 118.5, 119.2, 120.0,
      120.8, 121.5, 122.3, 123.0, 123.7, 124.5, 125.3, 126.2, 126.8, 127.7, 128.3, 129.2, 129.8, 130.5, 131.3, 132.2, 132.8, 133.8, 134.7, 135.5,
      136.2, 136.8, 137.3, 138.0, 138.8, 139.5, 140.0]
y7 = [0.57, -1.3, -2.5, -2.6, 0.4, 1.15, 0.57, -1.1, -1.7, -0.25, 1.0, 0.4, 1.0, 0.8, -0.3, 0.57, 0.4, 0.65, -0.65, -2.0,
      0.0, 0.8, 0.8, -1.8, -0.25, 1.2, 0.15, -1.3, -0.65, -1.0, -0.3, -0.85, -0.65, 0.15, 0.9, -1.3, -0.65, -0.3, -0.65, 0.57,
      -1.3, 0.15, 1.2, -0.65, -1.5, 0.57, 1.0, 0.15, -1.9, 0.15, 0.9, -1.9, -2.1, -0.85, 0.5, 0.5, -1.3, -1.8, 0.5, -0.65,
      -0.25, -0.25, -0.65, -0.25, 0.25, -0.85, -1.5, 0.0, 0.5, 0.25, -1.3, 0.0, 0.8, -1.3, 0.15, 1.0, -0.85, 1.0, 0.8, -1.9,
      -0.65, 0.8, 0.57, -0.25, -1.5, 0.15, 0.8, -1.3, -1.9, -0.25, 0.9, 0.57, -1.3, 0.0, 0.25, -1.9, 0.15, 1.0, -0.25, -1.9,
      0.0, 1.05, -0.65, -2.7, -0.65, 0.15, 0.5, 0.4, 0.5, 0.57, 1.2, -1.0, -1.15, -1.55, -0.65, 0.8, 1.0, -0.65, -1.5, -1.4,
      -0.25, 0.8, 1.0, 1.2, 1.5, 0.15, -0.25, -0.65, 0.15, 1.0, 1.3, 1.2, 0.57, -1.1, 0.57, 0.9, 0.9, 0.15, -1.7, 0.25,
      1.0, 1.0, -0.65, -1.55, 0.15, 1.05, 0.8, -1.3, -1.8, 0.15, 1.0, 0.57, -1.1, 0.15, 1.0, 0.15, -1.3, 0.57, 1.0, 0.15,
      -1.1, 0.25, 1.05, 0.9, 1.0, 0.0, -0.1]

ts = [t1, t2, t3, t4, t5, t6, t7]
ys = [y1, y2, y3, y4, y5, y6, y7]
y_ranges = [[-3.0, 1.62], [-0.42, 2.45], [-3.27, 0.32], [-4.08, 0.54], [-4.6, 0.42], [-5.77, 1.02], [-2.75, 1.45]]
y_tickvals = [[-3, -2, -1, 0, 1], [0, 1, 2], [-3, -2, -1, 0], [-4, -2, 0], [-4, -2, 0], [-4, -2, 0], [-2, -1, 0, 1]]
y_ticktext = [["-3", "-2", "-1", "0", "1"], ["0", "1", "2"], ["-3", "-2", "-1", "0"], ["-4", "-2", "0"],
              ["-4", "-2", "0"], ["-4", "-2", "0"], ["-2", "-1", "0", "1"]]

LINE = "#002d86"
FONT = "DejaVu Sans"
TICK_SIZE = 58
LABEL_SIZE = 64
TITLE_SIZE = 76

x0, x1 = 166 / W, 3394 / W
fig = go.Figure()
annotations = []
layout = {}
for k in range(7):
    top = 83 + 504.4 * k
    bot = 316 + 504.4 * k
    d0 = 1 - bot / H
    d1 = 1 - top / H
    sfx = "" if k == 0 else str(k + 1)
    fig.add_trace(go.Scatter(x=ts[k], y=ys[k], mode="lines",
                             line=dict(color=LINE, width=10),
                             xaxis="x" + sfx, yaxis="y" + sfx, showlegend=False))
    common = dict(showline=True, linecolor="black", linewidth=3, mirror="ticks",
                  ticks="inside", ticklen=33, tickwidth=3, tickcolor="black",
                  showgrid=False, zeroline=False, automargin=False,
                  tickfont=dict(family=FONT, size=TICK_SIZE, color="black"))
    layout["xaxis" + sfx] = dict(domain=[x0, x1], range=[20, 140], anchor="y" + sfx,
                                 tickvals=x_ticks, ticktext=[str(v) for v in x_ticks],
                                 ticklabelstandoff=7, **common)
    layout["yaxis" + sfx] = dict(domain=[d0, d1], range=y_ranges[k], anchor="x" + sfx,
                                 tickvals=y_tickvals[k], ticktext=y_ticktext[k],
                                 ticklabelstandoff=4, **common)
    annotations.append(dict(text="<b>" + titles[k] + "</b>", xref="paper", yref="paper",
                            x=(x0 + x1) / 2, y=d1, xanchor="center", yanchor="bottom", yshift=-2,
                            showarrow=False, font=dict(family=FONT, size=TITLE_SIZE, color="black")))
    annotations.append(dict(text="Time (s)", xref="paper", yref="paper",
                            x=(x0 + x1) / 2, y=d0, xanchor="center", yanchor="middle", yshift=-139,
                            showarrow=False, font=dict(family=FONT, size=LABEL_SIZE, color="black")))
    annotations.append(dict(text="Amplitude", xref="paper", yref="paper",
                            x=32 / W, y=(d0 + d1) / 2, xanchor="center", yanchor="middle",
                            textangle=-90, showarrow=False,
                            font=dict(family=FONT, size=LABEL_SIZE, color="black")))

fig.update_layout(width=W, height=H, margin=dict(l=0, r=0, t=0, b=0),
                  paper_bgcolor="white", plot_bgcolor="white", template="simple_white",
                  annotations=annotations, **layout)
fig.write_html("out.html")
